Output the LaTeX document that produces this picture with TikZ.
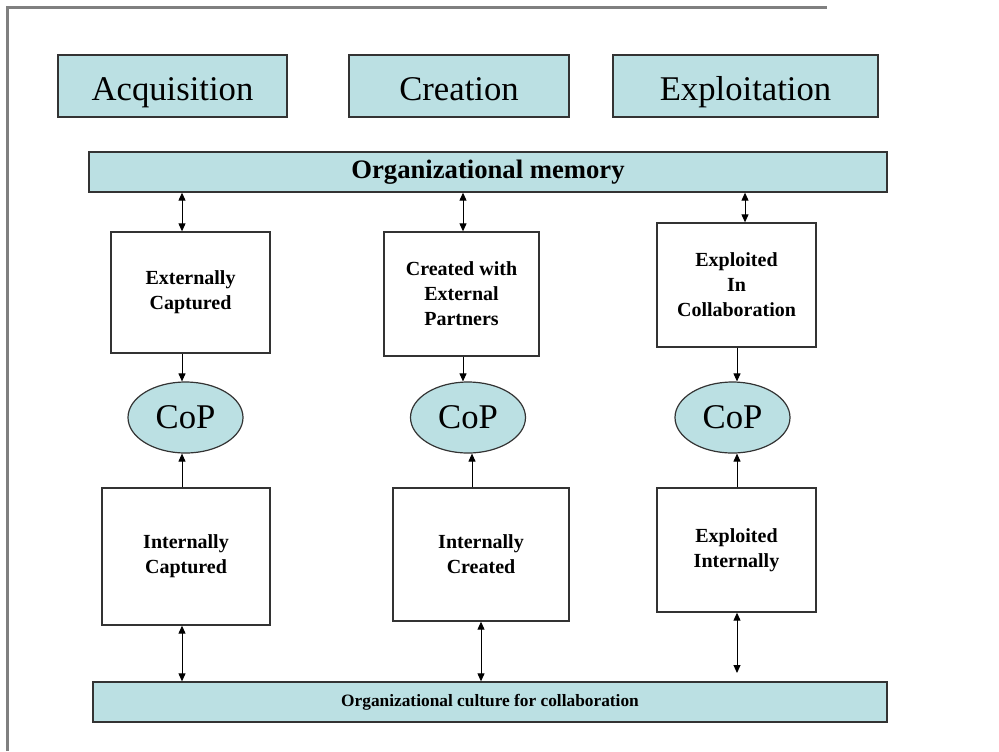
\documentclass[tikz,border=0pt]{standalone}
\usepackage{fontspec}
\setmainfont{Liberation Serif}
\usetikzlibrary{arrows.meta, positioning, shapes.geometric}
\definecolor{boxblue}{RGB}{187,224,227}
\definecolor{framegray}{RGB}{128,128,128}

\begin{document}
\begin{tikzpicture}[x=0.75pt, y=-0.75pt, ->, >={Stealth[length=6pt, width=5.25pt, inset=0pt]}, line width=0.75pt]

  % Stili dei nodi
  \tikzstyle{phasebox} = [rectangle, draw=black!80, line width=1pt, fill=boxblue, inner sep=0pt, minimum height=46.5pt, text height=24pt, text depth=3pt, font=\fontsize{26}{30}\selectfont]
  \tikzstyle{bandbox} = [rectangle, draw=black!80, line width=1pt, fill=boxblue, inner sep=0pt, minimum height=30pt]
  \tikzstyle{knowbox} = [rectangle, draw=black!80, line width=1pt, fill=white, inner sep=0pt, align=center, font=\bfseries\fontsize{15}{18.75}\selectfont]
  \tikzstyle{copnode} = [ellipse, draw=black!80, line width=0.9pt, fill=boxblue, inner sep=0pt, minimum width=86.25pt, minimum height=53.25pt, font=\fontsize{26}{30}\selectfont]

  \useasboundingbox (0,0) rectangle (999,751);

  % Cornice
  \draw[-, framegray, line width=2.25pt] (7,751) -- (7,7) -- (827,7);

  % Nodi
  \node[phasebox, minimum width=171.75pt] (acq) at (172.5,86) {Acquisition};
  \node[phasebox, minimum width=165pt] (cre) at (459,86) {Creation};
  \node[phasebox, minimum width=198.75pt] (exp) at (745.5,86) {Exploitation};

  \node[bandbox, minimum width=598.5pt, font=\bfseries\fontsize{20}{24}\selectfont] (mem) at (488,172) {Organizational memory};
  \node[bandbox, minimum width=595.5pt, font=\bfseries\fontsize{13}{16}\selectfont] (cul) at (490,702) {Organizational culture for collaboration};

  \node[knowbox, minimum width=119.25pt, minimum height=90.75pt] (ext) at (190.5,292.5) {Externally\\Captured};
  \node[knowbox, minimum width=116.25pt, minimum height=93pt] (cwe) at (461.5,294) {Created with\\External\\Partners};
  \node[knowbox, minimum width=119.25pt, minimum height=93pt] (eic) at (736.5,285) {Exploited\\In\\Collaboration};

  \node[copnode] (cop1) at (185.5,417.5) {CoP};
  \node[copnode] (cop2) at (468,417.5) {CoP};
  \node[copnode] (cop3) at (732.5,417.5) {CoP};

  \node[knowbox, minimum width=126pt, minimum height=102.75pt] (int1) at (186,556.5) {Internally\\Captured};
  \node[knowbox, minimum width=132pt, minimum height=99.75pt] (int2) at (481,554.5) {Internally\\Created};
  \node[knowbox, minimum width=119.25pt, minimum height=93pt] (int3) at (736.5,550) {Exploited\\Internally};

  % Colonne delle frecce
  \coordinate (a1) at (182,0);
  \coordinate (a2) at (463,0);
  \coordinate (a3) at (472,0);
  \coordinate (a4) at (481,0);
  \coordinate (a5) at (745,0);
  \coordinate (a6) at (737,0);
  \coordinate (e3) at (737,673);

  % Frecce
  \draw[<->] (mem.south -| a1) -- (ext.north -| a1);
  \draw[<->] (mem.south -| a2) -- (cwe.north -| a2);
  \draw[<->] (mem.south -| a5) -- (eic.north -| a5);

  \draw[->] (ext.south -| a1) -- (cop1.north -| a1);
  \draw[->] (cwe.south -| a2) -- (cop2.north -| a2);
  \draw[->] (eic.south -| a6) -- (cop3.north -| a6);

  \draw[->] (int1.north -| a1) -- (cop1.south -| a1);
  \draw[->] (int2.north -| a3) -- (cop2.south -| a3);
  \draw[->] (int3.north -| a6) -- (cop3.south -| a6);

  \draw[<->] (int1.south -| a1) -- (cul.north -| a1);
  \draw[<->] (int2.south -| a4) -- (cul.north -| a4);
  \draw[<->] (int3.south -| a6) -- (e3);

\end{tikzpicture}
\end{document}
